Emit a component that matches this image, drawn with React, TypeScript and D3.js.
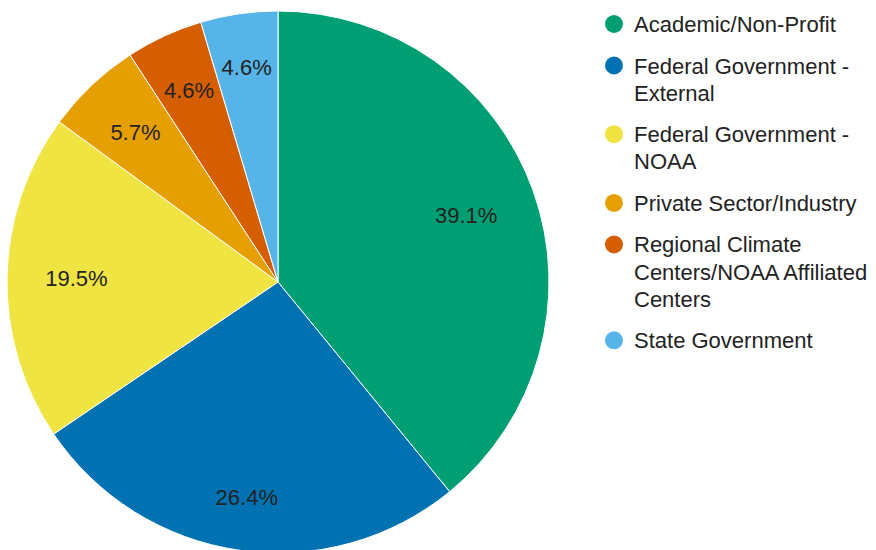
import React from "react";
import * as d3 from "d3";

const categories = [
  "Academic/Non-Profit",
  "Federal Government - External",
  "Federal Government - NOAA",
  "Private Sector/Industry",
  "Regional Climate Centers/NOAA Affiliated Centers",
  "State Government",
];
const legendLines = [
  ["Academic/Non-Profit"],
  ["Federal Government -", "External"],
  ["Federal Government -", "NOAA"],
  ["Private Sector/Industry"],
  ["Regional Climate", "Centers/NOAA Affiliated", "Centers"],
  ["State Government"],
];
const counts = [34, 23, 17, 5, 4, 4];
const colors = ["#009E73", "#0072B2", "#F0E442", "#E69F00", "#D55E00", "#56B4E9"];

const W = 876;
const H = 550;
const FONT = "Arial, 'Liberation Sans', sans-serif";
const FS = 22;

function textWidth(s: string) {
  let w = 0;
  for (const c of s) {
    if (c === ".") w += 0.278;
    else if (c === "%") w += 0.889;
    else w += 0.556;
  }
  return w * FS * 0.97;
}

export default function App() {
  const cx = 278;
  const cy = 282;
  const R = 271;
  const total = d3.sum(counts);
  const pie = d3.pie<number>().sort(null).value((d) => d)(counts);
  const arc = d3.arc<d3.PieArcDatum<number>>().innerRadius(0).outerRadius(R);

  const Rb = 232;
  const hh = 11;

  const legendX = 614;
  const itemGap = 41.5;
  const lineH = 27.2;
  let yCursor = 24;
  const legendItems = legendLines.map((lines, i) => {
    const y = yCursor;
    yCursor += itemGap + (lines.length - 1) * lineH;
    return { lines, y, color: colors[i], name: categories[i] };
  });

  return (
    <svg
      width={W}
      height={H}
      style={{ position: "absolute", left: 0, top: 0, background: "#fff" }}
      fontFamily={FONT}
    >
      <g transform={`translate(${cx},${cy})`}>
        {pie.map((p, i) => (
          <path key={i} d={arc(p) || ""} fill={colors[i]} stroke="#ffffff" strokeWidth={1} />
        ))}
        {pie.map((p, i) => {
          const label = ((p.value / total) * 100).toFixed(1) + "%";
          const a = (p.startAngle + p.endAngle) / 2;
          const s = Math.sin(a);
          const c = Math.cos(a);
          const hw = textWidth(label) / 2;
          const r = Rb - (hw * Math.abs(s) + hh * Math.abs(c));
          const x = r * s;
          const y = -r * c;
          return (
            <text
              key={"l" + i}
              x={x}
              y={y + 8}
              textAnchor="middle"
              fontSize={FS}
              fill="#222222"
            >
              {label}
            </text>
          );
        })}
      </g>
      <g>
        {legendItems.map((it, i) => (
          <g key={i}>
            <circle cx={legendX} cy={it.y} r={9} fill={it.color} />
            {it.lines.map((ln, j) => (
              <text
                key={j}
                x={634}
                y={it.y + 8 + j * lineH}
                fontSize={FS}
                fill="#222222"
              >
                {ln}
              </text>
            ))}
          </g>
        ))}
      </g>
    </svg>
  );
}
